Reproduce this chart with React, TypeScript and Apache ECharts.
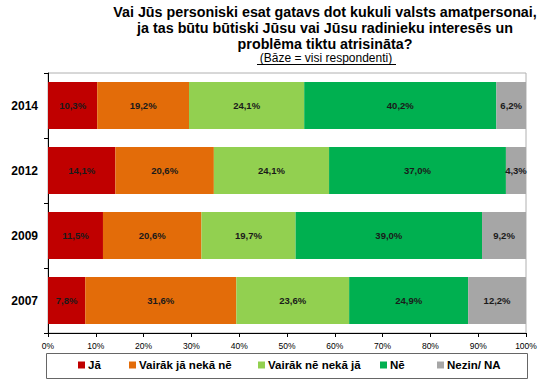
import React, { useEffect, useRef } from "react";
import * as echarts from "echarts";

const years = ["2014", "2012", "2009", "2007"];
const seriesNames = ["Jā", "Vairāk jā nekā nē", "Vairāk nē nekā jā", "Nē", "Nezin/ NA"];
const ja = [10.3, 14.1, 11.5, 7.8];
const vairakJa = [19.2, 20.6, 20.6, 31.6];
const vairakNe = [24.1, 24.1, 19.7, 23.6];
const ne = [40.2, 37.0, 39.0, 24.9];
const nezin = [6.2, 4.3, 9.2, 12.2];
const colors = ["#C00000", "#E36C09", "#92D050", "#00B050", "#A6A6A6"];
const titleLines = [
  "Vai Jūs personiski esat gatavs dot kukuli valsts amatpersonai,",
  "ja tas būtu būtiski Jūsu vai Jūsu radinieku interesēs un",
  "problēma tiktu atrisināta?",
];
const subtitle = "(Bāze = visi respondenti)";
const legendLefts = [78, 129, 258, 380, 437];

const FONT = "'Liberation Sans', Arial, sans-serif";

export default function App() {
  const ref = useRef<HTMLDivElement>(null);
  useEffect(() => {
    if (!ref.current) return;
    const chart = echarts.init(ref.current, null, { renderer: "svg" });
    const all = [ja, vairakJa, vairakNe, ne, nezin];
    chart.setOption({
      animation: false,
      textStyle: { fontFamily: FONT },
      graphic: [
        ...titleLines.map((t, i) => ({
          type: "text",
          x: 325,
          y: 12 + i * 16,
          style: {
            text: t,
            fontFamily: FONT,
            fontSize: 14.3,
            fontWeight: "bold",
            fill: "#000",
            textAlign: "center",
            textVerticalAlign: "middle",
          },
        })),
        {
          type: "text",
          x: 326,
          y: 58,
          style: {
            text: subtitle,
            fontFamily: FONT,
            fontSize: 12,
            fill: "#000",
            textAlign: "center",
            textVerticalAlign: "middle",
          },
        },
        {
          type: "line",
          shape: { x1: 257, y1: 64.5, x2: 396, y2: 64.5 },
          style: { stroke: "#000", lineWidth: 1 },
        },
        {
          type: "rect",
          shape: { x: 46.5, y: 353.5, width: 481, height: 25 },
          style: { fill: "none", stroke: "#666", lineWidth: 1 },
        },
      ],
      legend: seriesNames.map((n, i) => ({
        left: legendLefts[i],
        top: 359,
        itemWidth: 7,
        itemHeight: 7,
        icon: "rect",
        padding: 0,
        textStyle: { fontFamily: FONT, fontSize: 11.5, fontWeight: "bold", color: "#000", padding: [0, 0, 0, -2] },
        data: [n],
      })),
      grid: {
        left: 48,
        right: 18,
        top: 73,
        bottom: 51,
        show: true,
        borderColor: "#B0B0B0",
        borderWidth: 1,
      },
      xAxis: {
        type: "value",
        min: 0,
        max: 100,
        interval: 10,
        axisLine: { show: true, lineStyle: { color: "#000" } },
        axisTick: { show: true, length: 4, lineStyle: { color: "#000" } },
        splitLine: { show: false },
        axisLabel: {
          formatter: (v: number) => `${v}%`,
          fontFamily: FONT,
          fontSize: 8.5,
          color: "#000",
          margin: 8,
        },
      },
      yAxis: {
        type: "category",
        data: years,
        inverse: true,
        axisLine: { show: true, lineStyle: { color: "#000" } },
        axisTick: { show: true, length: 4, lineStyle: { color: "#000" } },
        axisLabel: { fontFamily: FONT, fontSize: 12, fontWeight: "bold", color: "#000", margin: 10 },
      },
      series: all.map((d, i) => ({
        type: "bar",
        name: seriesNames[i],
        stack: "total",
        data: d,
        barCategoryGap: "28%",
        itemStyle: { color: colors[i] },
        label: {
          show: true,
          position: "inside",
          formatter: (p: any) => `${p.value.toFixed(1).replace(".", ",")}%`,
          fontFamily: FONT,
          fontSize: 9.5,
          fontWeight: "bold",
          color: "#1a1a1a",
        },
      })),
    });
    return () => chart.dispose();
  }, []);
  return <div ref={ref} style={{ width: 544, height: 384, position: "absolute", left: 0, top: 0 }} />;
}
